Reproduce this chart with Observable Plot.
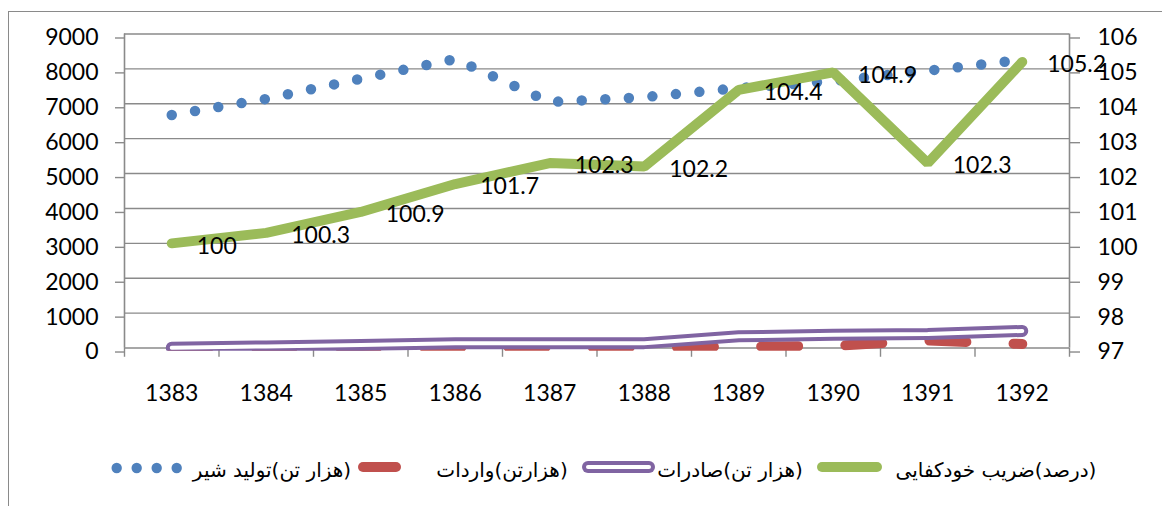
<!DOCTYPE html>
<html><head><meta charset="utf-8">
<script src="https://cdn.jsdelivr.net/npm/d3@7"></script>
<script src="https://cdn.jsdelivr.net/npm/@observablehq/plot@0.6"></script>
<style>
html,body{margin:0;padding:0;background:#fff;}
#wrap{position:relative;width:1162px;height:506px;overflow:hidden;background:#fff;}
#border{position:absolute;left:8px;top:11px;width:1300px;height:600px;border:1.5px solid #8a8a8a;box-sizing:border-box;}
#chart{position:absolute;left:0;top:0;}
.leg{position:absolute;top:456px;font-family:"DejaVu Sans",sans-serif;font-size:20px;direction:rtl;white-space:nowrap;color:#000;transform:translateX(-50%);line-height:28px;}
.sw{position:absolute;}
</style></head><body>
<div id="wrap"><div id="border"></div><div id="chart"></div><div id="legend"></div></div>
<script>
// ---- data ----
const years = ["1383","1384","1385","1386","1387","1388","1389","1390","1391","1392"];
const milk = [6680, 7140, 7720, 8280, 7050, 7190, 7450, 7650, 7950, 8260];          // (هزار تن)تولید شیر
const imports = [10, 10, 15, 20, 20, 20, 40, 60, 215, 115];                          // (هزارتن)واردات
const exportsVals = [10, 45, 90, 135, 135, 140, 335, 380, 400, 490];                 // (هزار تن)صادرات
const selfSuff = [100, 100.3, 100.9, 101.7, 102.3, 102.2, 104.4, 104.9, 102.3, 105.2]; // (درصد)ضریب خودکفایی
const leftTicks = [0,1000,2000,3000,4000,5000,6000,7000,8000,9000];
const rightTicks = [97,98,99,100,101,102,103,104,105,106];
const names = ["(هزار تن)تولید شیر", "(هزارتن)واردات", "(هزار تن)صادرات", "(درصد)ضریب خودکفایی"];
const colors = {milk:"#4F81BD", imp:"#C0504D", exp:"#8064A2", ss:"#9BBB59", grid:"#8a8a8a"};

// right axis (97..106) mapped onto left axis units
const toLeft = v => (v - 97) * 1000;

const rows = years.map((y, i) => ({
  i: i + 0.5, year: y, milk: milk[i], imp: imports[i], exp: exportsVals[i],
  ss: selfSuff[i], ssL: toLeft(selfSuff[i])
}));
const bounds = d3.range(years.length + 1);

const W = 1162, H = 430;
const chart = Plot.plot({
  width: W, height: H,
  marginLeft: 124, marginRight: 93, marginTop: 33.5, marginBottom: H - 350.66,
  x: {type: "linear", domain: [0, years.length]},
  y: {domain: [-90, 9000]},
  style: {fontFamily: "Lato, sans-serif", fontSize: "23px", background: "transparent", overflow: "visible"},
  marks: [
    Plot.ruleY(leftTicks, {stroke: colors.grid, strokeWidth: 1.4}),
    Plot.ruleX(bounds, {y1: 0, y2: -265, stroke: colors.grid, strokeWidth: 1.4}),
    Plot.ruleX([0, years.length], {y1: 9000, y2: 0, stroke: colors.grid, strokeWidth: 1.6}),
    Plot.axisY(leftTicks, {anchor: "left", tickSize: 9, tickPadding: 17, fontSize: 23, dy: 4, stroke: colors.grid, strokeWidth: 1.4, fill: "#000", label: null, tickFormat: d => String(d)}),
    Plot.axisY(rightTicks.map(toLeft), {anchor: "right", tickSize: 10, tickPadding: 18, fontSize: 23, dy: 4, stroke: colors.grid, strokeWidth: 1.4, fill: "#000", label: null, tickFormat: d => String(97 + d / 1000)}),
    Plot.axisX(rows.map(d => d.i), {anchor: "bottom", tickSize: 0, tickPadding: 33, fontSize: 23, fill: "#000", label: null, tickFormat: d => years[Math.floor(d)]}),
    Plot.line(rows, {x: "i", y: "milk", stroke: colors.milk, strokeWidth: 10.5, strokeDasharray: "0 23.6", strokeLinecap: "round", strokeLinejoin: "round"}),
    Plot.line(rows, {x: "i", y: "imp", stroke: colors.imp, strokeWidth: 10, strokeDasharray: "37 47.2", strokeLinecap: "round", strokeLinejoin: "round", clip: true}),
    Plot.line(rows, {x: "i", y: "exp", stroke: colors.exp, strokeWidth: 12, strokeLinecap: "round", strokeLinejoin: "round", clip: true}),
    Plot.line(rows, {x: "i", y: "exp", stroke: "#fff", strokeWidth: 4, strokeLinecap: "round", strokeLinejoin: "round", clip: true}),
    Plot.line(rows, {x: "i", y: "ssL", stroke: colors.ss, strokeWidth: 10, strokeLinecap: "round", strokeLinejoin: "miter"}),
    Plot.text(rows, {x: "i", y: "ssL", text: d => String(d.ss), dx: 25, dy: 3, textAnchor: "start", fontSize: 23, fill: "#000"})
  ]
});
document.getElementById("chart").appendChild(chart);

// ---- legend ----
const legend = d3.select("#legend");
const cy = 468;
// milk: dots
const s1 = legend.append("svg").attr("class","sw").style("left","108px").style("top",(cy-10)+"px").attr("width",80).attr("height",20);
s1.selectAll("circle").data([0,1,2,3]).join("circle").attr("cx", d => 8.7 + d*20).attr("cy",10).attr("r",5.2).attr("fill",colors.milk);
// imports
const s2 = legend.append("svg").attr("class","sw").style("left","352px").style("top",(cy-10)+"px").attr("width",56).attr("height",20);
s2.append("line").attr("x1",11).attr("x2",44).attr("y1",9).attr("y2",9).attr("stroke",colors.imp).attr("stroke-width",10).attr("stroke-linecap","round");
// exports
const s3 = legend.append("svg").attr("class","sw").style("left","576px").style("top",(cy-10)+"px").attr("width",86).attr("height",20);
s3.append("line").attr("x1",12).attr("x2",73).attr("y1",9).attr("y2",9).attr("stroke",colors.exp).attr("stroke-width",12).attr("stroke-linecap","round");
s3.append("line").attr("x1",12).attr("x2",73).attr("y1",9).attr("y2",9).attr("stroke","#fff").attr("stroke-width",4).attr("stroke-linecap","round");
// self-sufficiency
const s4 = legend.append("svg").attr("class","sw").style("left","810px").style("top",(cy-10)+"px").attr("width",80).attr("height",20);
s4.append("line").attr("x1",12).attr("x2",67).attr("y1",9).attr("y2",9).attr("stroke",colors.ss).attr("stroke-width",10).attr("stroke-linecap","round");

const textCenters = [272, 502, 730, 996];
names.forEach((n, k) => {
  legend.append("div").attr("class","leg").attr("dir","rtl").style("left", textCenters[k] + "px").text(n);
});
</script>
</body></html>
